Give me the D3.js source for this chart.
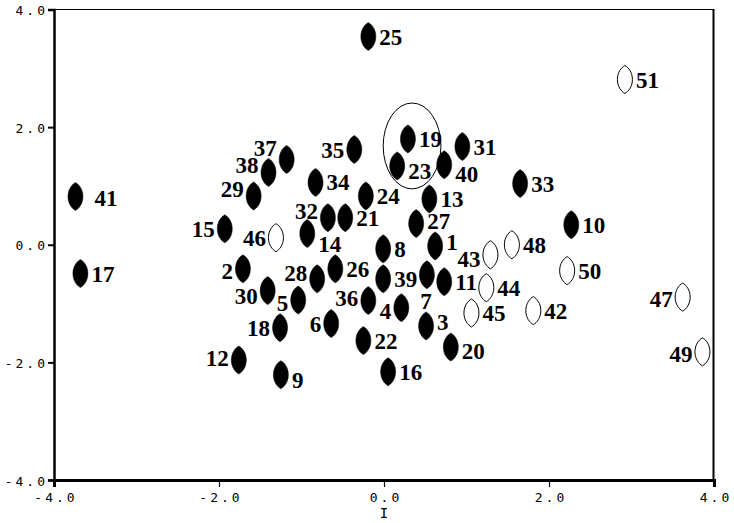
<!DOCTYPE html>
<html>
<head>
<meta charset="utf-8">
<script src="https://cdn.jsdelivr.net/npm/d3@7"></script>
<style>
  body { margin: 0; background: #fff; }
  .tick text { font-family: "DejaVu Sans Mono", monospace; font-size: 13px; letter-spacing: 3px; fill: #000; }
  .pt-label { font-family: "Liberation Serif", "Times New Roman", serif; font-weight: bold; font-size: 23px; fill: #000; }
</style>
</head>
<body>
<script>
// point ids, scores on I (x) and II (y), filled or hollow
var ids = [1,2,3,4,5,6,7,8,9,10,11,12,13,14,15,16,17,18,19,20,21,22,23,24,25,26,
           27,28,29,30,31,32,33,34,35,36,37,38,39,40,41,42,43,44,45,46,47,48,49,50,51];
var xs = [0.62,-1.71,0.51,0.21,-1.04,-0.64,0.52,-0.01,-1.25,2.27,0.73,-1.76,0.55,-0.93,-1.93,0.05,
          -3.68,-1.26,0.29,0.81,-0.47,-0.25,0.16,-0.22,-0.19,-0.59,0.39,-0.81,-1.58,-1.41,0.95,-0.68,
          1.65,-0.83,-0.36,-0.19,-1.18,-1.40,-0.01,0.73,-3.74,1.81,1.29,1.24,1.06,-1.31,3.62,1.55,3.86,2.22,2.92];
var ys = [-0.02,-0.41,-1.38,-1.07,-0.94,-1.34,-0.51,-0.07,-2.21,0.34,-0.63,-1.96,0.78,0.19,0.27,-2.16,
          -0.49,-1.41,1.80,-1.74,0.46,-1.63,1.34,0.83,3.54,-0.41,0.36,-0.58,0.83,-0.78,1.67,0.46,
          1.04,1.06,1.62,-0.95,1.45,1.23,-0.58,1.36,0.82,-1.12,-0.17,-0.73,-1.16,0.12,-0.89,0.00,-1.82,-0.44,2.81];
var hollow = [42,43,44,45,46,47,48,49,50,51];
var tickVals = [-4, -2, 0, 2, 4];
var xTitle = "I";
// highlighted group (19, 23): centre and radii in data units
var ring = {cx: 0.34, cy: 1.68, rx: 0.35, ry: 0.73};

// label placement: side and vertical nudge (px), default right
var labelPlace = {
  37: ["l", -12], 38: ["l", -7], 29: ["l", -7], 35: ["l", 0], 32: ["l", -7],
  15: ["l", 0], 46: ["l", 0], 2: ["l", 2], 28: ["l", -6], 30: ["l", 5], 5: ["l", 3],
  36: ["l", -3], 6: ["l", 0], 18: ["l", 0], 12: ["l", -2], 4: ["l", 3], 43: ["l", 4],
  47: ["l", 2], 49: ["l", 2], 7: ["b", 26], 40: ["r", 9], 14: ["r", 10], 1: ["r", -4],
  9: ["r", 5], 20: ["r", 4], 23: ["r", 5], 41: ["R", 1], 27: ["r", -3], 3: ["r", -4]
};

var W = 734, H = 523;
var svg = d3.select("body").append("svg").attr("width", W).attr("height", H);

var x = d3.scaleLinear().domain([-4, 4]).range([54, 714]);
var y = d3.scaleLinear().domain([-4, 4]).range([480, 9.5]);

// frame top / right
svg.append("line").attr("x1", 54).attr("x2", 714).attr("y1", 9.5).attr("y2", 9.5)
   .attr("stroke", "#000").attr("stroke-width", 1.2);
svg.append("line").attr("x1", 713.5).attr("x2", 713.5).attr("y1", 9).attr("y2", 481)
   .attr("stroke", "#000").attr("stroke-width", 2);

var fmt = function(d) { return d.toFixed(1); };

var gx = svg.append("g").attr("transform", "translate(0,480)")
  .call(d3.axisBottom(x).tickValues(tickVals).tickFormat(fmt).tickSizeOuter(0).tickSize(7).tickPadding(6));
gx.select(".domain").attr("stroke-width", 3);
gx.selectAll(".tick line").attr("stroke-width", 1.2);
gx.selectAll(".tick text").attr("dx", "1.5px");

var gy = svg.append("g").attr("transform", "translate(54,0)")
  .call(d3.axisLeft(y).tickValues(tickVals).tickFormat(fmt).tickSizeOuter(0).tickSize(6).tickPadding(0));
gy.select(".domain").attr("stroke-width", 2.5);
gy.selectAll(".tick line").attr("stroke-width", 2);
gy.selectAll(".tick text").attr("dy", "0.4em");

svg.append("text").attr("x", x(0)).attr("y", 518).attr("text-anchor", "middle")
   .style("font-family", "'DejaVu Sans Mono', monospace").style("font-size", "14px")
   .text(xTitle);

// ring around 19 and 23
svg.append("ellipse")
   .attr("cx", x(ring.cx)).attr("cy", y(ring.cy))
   .attr("rx", x(ring.cx + ring.rx) - x(ring.cx))
   .attr("ry", y(ring.cy) - y(ring.cy + ring.ry))
   .attr("fill", "none").attr("stroke", "#000").attr("stroke-width", 1);

var pts = ids.map(function(id, i) { return {id: id, x: xs[i], y: ys[i], open: hollow.indexOf(id) >= 0}; });

// oval marker with slightly pointed ends
var mw = 7.5, mh = 14;
function half(s) {
  return "C" + (s * 0.5 * mw) + "," + (-0.85 * mh) + " " + (s * mw) + "," + (-0.5 * mh) + " " + (s * mw) + ",0" +
         "C" + (s * mw) + "," + (0.5 * mh) + " " + (s * 0.5 * mw) + "," + (0.85 * mh) + " 0," + mh;
}
var lens = "M0," + (-mh) + half(1) +
           "C" + (-0.5 * mw) + "," + (0.85 * mh) + " " + (-mw) + "," + (0.5 * mh) + " " + (-mw) + ",0" +
           "C" + (-mw) + "," + (-0.5 * mh) + " " + (-0.5 * mw) + "," + (-0.85 * mh) + " 0," + (-mh) + "Z";

svg.append("g").selectAll("path").data(pts).join("path")
   .attr("d", lens)
   .attr("transform", function(d) { return "translate(" + x(d.x) + "," + y(d.y) + ")"; })
   .attr("fill", function(d) { return d.open ? "#fff" : "#000"; })
   .attr("stroke", "#000").attr("stroke-width", function(d) { return d.open ? 1 : 0.5; });

svg.append("g").selectAll("text").data(pts).join("text")
   .attr("class", "pt-label")
   .attr("x", function(d) {
     var p = labelPlace[d.id] || ["r", 0];
     if (p[0] === "l") return x(d.x) - 10;
     if (p[0] === "b") return x(d.x) - 1;
     if (p[0] === "R") return x(d.x) + 19;
     return x(d.x) + 11;
   })
   .attr("y", function(d) { var p = labelPlace[d.id] || ["r", 0]; return y(d.y) + p[1]; })
   .attr("dy", "0.35em")
   .attr("text-anchor", function(d) {
     var p = labelPlace[d.id] || ["r", 0];
     return p[0] === "l" ? "end" : (p[0] === "b" ? "middle" : "start");
   })
   .text(function(d) { return d.id; });
</script>
</body>
</html>
